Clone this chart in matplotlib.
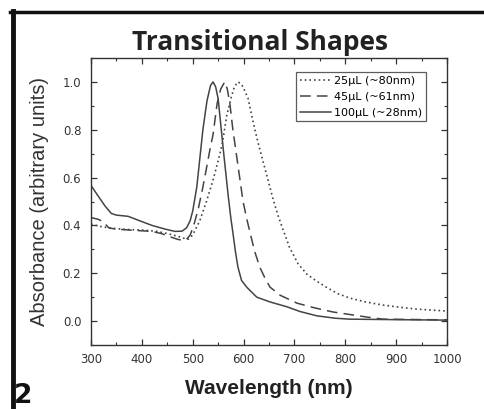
import numpy as np
import matplotlib.pyplot as plt
from matplotlib.lines import Line2D

# wavelength (nm) / absorbance
wl_100 = [300, 315, 328, 340, 350, 373, 395, 420, 445, 465, 479, 488, 495, 500, 508, 515,
          520, 528, 535, 540, 545, 550, 560, 570, 575, 579, 584, 589, 596, 607, 626, 652,
          685, 711, 744, 780, 809, 900, 1000]
ab_100 = [0.567, 0.52, 0.48, 0.45, 0.443, 0.438, 0.42, 0.40, 0.385, 0.375, 0.376, 0.39,
          0.42, 0.46, 0.56, 0.70, 0.80, 0.92, 0.985, 1.0, 0.98, 0.93, 0.72, 0.52, 0.43,
          0.37, 0.29, 0.225, 0.17, 0.14, 0.10, 0.08, 0.06, 0.04, 0.022, 0.012, 0.008,
          0.006, 0.004]

wl_45 = [300, 315, 324, 335, 347, 380, 420, 440, 452, 470, 479, 487, 495, 502, 511, 520,
         528, 535, 540, 548, 555, 563, 568, 573, 579, 587, 599, 606, 613, 622, 632, 642,
         652, 672, 705, 740, 776, 842, 874, 1000]
ab_45 = [0.433, 0.425, 0.415, 0.39, 0.385, 0.38, 0.375, 0.365, 0.355, 0.342, 0.338, 0.34,
         0.36, 0.40, 0.47, 0.56, 0.65, 0.73, 0.78, 0.91, 0.97, 1.0, 0.97, 0.91, 0.80, 0.68,
         0.50, 0.43, 0.367, 0.29, 0.225, 0.18, 0.142, 0.108, 0.075, 0.055, 0.038, 0.017,
         0.008, 0.005]

wl_25 = [300, 320, 341, 370, 406, 430, 452, 470, 485, 491, 500, 514, 527, 540, 550, 558,
         567, 575, 582, 589, 596, 603, 609, 618, 628, 638, 648, 658, 668, 678, 690, 707,
         725, 745, 764, 785, 809, 840, 874, 910, 941, 970, 1000]
ab_25 = [0.405, 0.395, 0.388, 0.383, 0.38, 0.375, 0.365, 0.355, 0.345, 0.342, 0.36, 0.42,
         0.50, 0.59, 0.67, 0.74, 0.86, 0.93, 0.98, 1.0, 0.99, 0.96, 0.93, 0.84, 0.75, 0.67,
         0.59, 0.51, 0.44, 0.38, 0.31, 0.24, 0.195, 0.165, 0.14, 0.115, 0.096, 0.08,
         0.067, 0.057, 0.05, 0.046, 0.042]

labels = ['25µL (~80nm)', '45µL (~61nm)', '100µL (~28nm)']

fig = plt.figure(figsize=(4.85, 4.09), dpi=100)
ax = fig.add_axes([91 / 485, 1 - 345 / 409, 356 / 485, 287 / 409])

c = '#444444'
ax.plot(wl_25, ab_25, color=c, lw=1.2, ls=(0, (1.0, 1.8)), label=labels[0])
ax.plot(wl_45, ab_45, color=c, lw=1.1, ls=(0, (7, 4)), label=labels[1])
ax.plot(wl_100, ab_100, color=c, lw=1.1, ls='-', label=labels[2])

ax.set_xlim(300, 1000)
ax.set_ylim(-0.1, 1.1)
ax.set_xticks(np.arange(300, 1001, 100))
ax.set_xticks(np.arange(350, 1000, 100), minor=True)
ax.set_yticks([0.0, 0.2, 0.4, 0.6, 0.8, 1.0])
ax.set_yticks([-0.1, 0.1, 0.3, 0.5, 0.7, 0.9, 1.1], minor=True)
ax.set_yticklabels(['0.0', '0.2', '0.4', '0.6', '0.8', '1.0'])
ax.tick_params(which='both', direction='in', top=True, right=True, colors='#333333',
               labelsize=8.5)
ax.tick_params(which='major', length=4, width=0.9)
ax.tick_params(which='minor', length=2.5, width=0.8)
ax.tick_params(axis='x', pad=6)
ax.tick_params(axis='y', pad=7)
for s in ax.spines.values():
    s.set_color('#333333')
    s.set_linewidth(1.0)

ax.set_xlabel('Wavelength (nm)', fontsize=15, fontweight='bold', color='#222222',
              family='Liberation Sans', labelpad=9)
ax.set_ylabel('Absorbance (arbitrary units)', fontsize=14.5, color='#333333',
              family='Liberation Sans', labelpad=10)

fig.text(0.536, 1 - 43 / 409, 'Transitional Shapes', ha='center', va='center',
         fontsize=19, fontweight='bold', family='Open Sans', color='#222222')
fig.text(14 / 485, 1 - 396 / 409, '2', ha='left', va='center', fontsize=19,
         fontweight='bold', family='DejaVu Sans', color='#111111')

leg = ax.legend(loc='upper right', bbox_to_anchor=(0.94, 0.95), fontsize=8,
                frameon=True, fancybox=False, edgecolor='#333333', borderpad=0.3,
                handlelength=2.8, handletextpad=0.3, labelspacing=0.55, borderaxespad=0)
leg.get_frame().set_linewidth(0.9)

# black frame lines along top and left
fig.add_artist(Line2D([10 / 485, 1], [1 - 12 / 409] * 2, color='#111111', lw=2.5,
                      transform=fig.transFigure))
fig.add_artist(Line2D([13 / 485] * 2, [0, 1 - 11 / 409], color='#111111', lw=3.5,
                      transform=fig.transFigure))

fig.savefig('out.png', dpi=100)
